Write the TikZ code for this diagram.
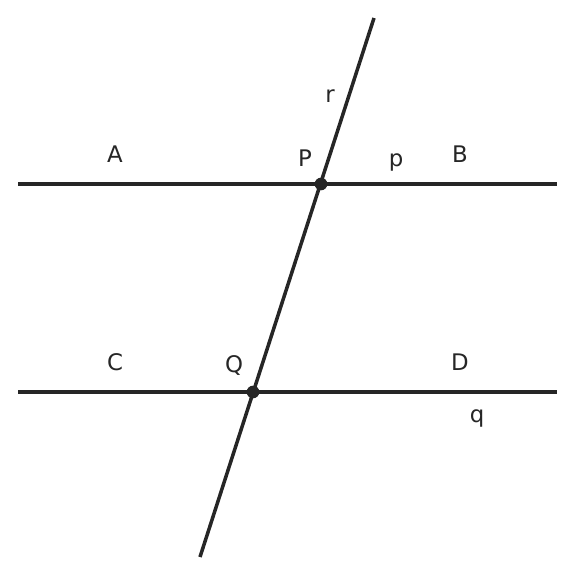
\documentclass[tikz,border=0pt]{standalone}
\usepackage{fontspec}
\setmainfont{DejaVu Sans}
\usepackage{tikz}

\definecolor{ink}{HTML}{262626}

\begin{document}
\begin{tikzpicture}[x=0.02cm,y=-0.02cm]

	\useasboundingbox (0,0) rectangle (576,576);

	\tikzset{line/.style={line width=2pt, color=ink},
		lbl/.style={anchor=base, text=ink, font=\fontsize{13}{15}\selectfont, inner sep=0pt}}

	\coordinate (a) at (18,184);
	\coordinate (b) at (557,184);
	\coordinate (c) at (18,392);
	\coordinate (d) at (557,392);
	\coordinate (top) at (374,18);
	\coordinate (bot) at (200,557);
	\coordinate (P) at (321,184);
	\coordinate (Q) at (253,392);

	\draw[line] (a) -- (b);
	\draw[line] (c) -- (d);
	\draw[line] (top) -- (bot);

	\fill[ink] (P) circle (3.6pt);
	\fill[ink] (Q) circle (3.6pt);

	\node[lbl] (lA) at (115,162) {A};
	\node[lbl] (lB) at (460,162) {B};
	\node[lbl] (lP) at (305,166) {P};
	\node[lbl] (lp) at (396,166) {p};
	\node[lbl] (lr) at (330,102) {r};
	\node[lbl] (lC) at (115,370) {C};
	\node[lbl] (lD) at (460,370) {D};
	\node[lbl] (lQ) at (234,372) {Q};
	\node[lbl] (lq) at (477,422) {q};

\end{tikzpicture}
\end{document}
